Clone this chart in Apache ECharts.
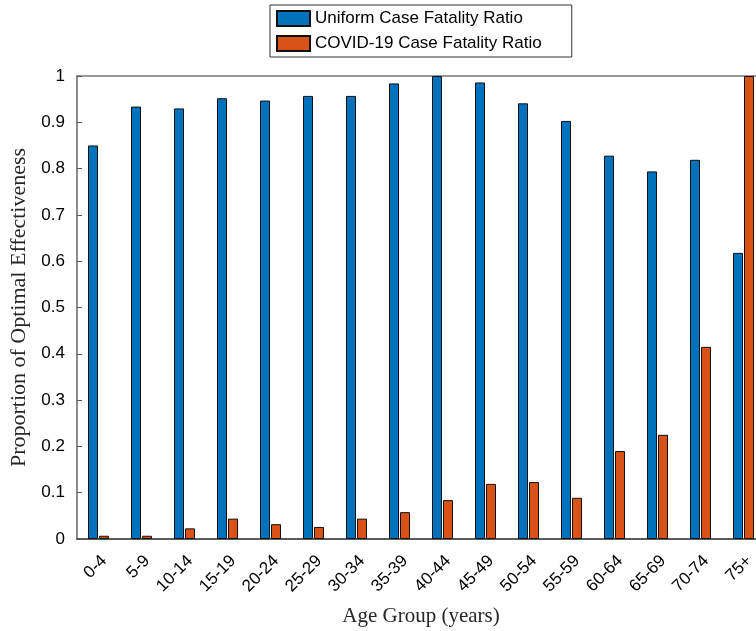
<!DOCTYPE html>
<html><head><meta charset="utf-8">
<script src="https://cdn.jsdelivr.net/npm/echarts@6/dist/echarts.min.js"></script>
<style>html,body{margin:0;padding:0;background:#fff}#c{width:756px;height:631px}</style>
</head><body><div id="c"></div>
<script>
const categories = ['0-4','5-9','10-14','15-19','20-24','25-29','30-34','35-39','40-44','45-49','50-54','55-59','60-64','65-69','70-74','75+'];
const uniformCFR = [0.850,0.934,0.930,0.952,0.947,0.957,0.957,0.984,1.000,0.986,0.941,0.903,0.828,0.794,0.819,0.618];
const covidCFR = [0.007,0.007,0.023,0.044,0.032,0.026,0.044,0.058,0.084,0.119,0.123,0.089,0.190,0.225,0.415,1.000];
const yTicks = [0,0.1,0.2,0.3,0.4,0.5,0.6,0.7,0.8,0.9,1];
const seriesNames = ['Uniform Case Fatality Ratio','COVID-19 Case Fatality Ratio'];

const chart = echarts.init(document.getElementById('c'), null, {renderer:'canvas'});
const sans = 'Liberation Sans, Arial, Helvetica, sans-serif';
const serif = 'Liberation Serif, DejaVu Serif, Times New Roman, serif';
chart.setOption({
  animation:false,
  backgroundColor:'#fff',
  legend:{
    orient:'vertical', left:270, top:5,
    icon:'rect',
    itemWidth:33, itemHeight:15, itemGap:8,
    padding:[5,30,5,6],
    borderColor:'#333', borderWidth:1,
    textStyle:{fontFamily:sans, fontSize:17, color:'#000'},
    data: seriesNames
  },
  grid:{left:77, top:76, width:688, height:463, containLabel:false, outerBoundsMode:'none'},
  xAxis:[{
    type:'category', data:categories, position:'bottom',
    axisLine:{lineStyle:{color:'#262626', width:1.5}},
    axisTick:{inside:true, alignWithLabel:true, length:5, lineStyle:{color:'#262626'}},
    axisLabel:{rotate:45, fontFamily:sans, fontSize:17, color:'#000', margin:25, interval:0,
      padding:[0,-8,0,0]},
    name:'Age Group (years)', nameLocation:'middle', nameGap:67,
    nameTextStyle:{fontFamily:serif, fontSize:21, color:'#262626'}
  },{
    type:'category', data:categories, position:'top',
    axisLine:{lineStyle:{color:'#777', width:1.5}},
    axisTick:{inside:true, alignWithLabel:true, length:5, lineStyle:{color:'#262626'}},
    axisLabel:{show:false}
  }],
  yAxis:{
    type:'value', min:0, max:1, interval:0.1,
    axisLine:{show:true, lineStyle:{color:'#666', width:1.5}},
    axisTick:{show:true, inside:true, length:5, lineStyle:{color:'#555'}},
    splitLine:{show:false},
    axisLabel:{fontFamily:sans, fontSize:17, color:'#000', margin:12,
      formatter:v=>{ const t=yTicks.find(x=>Math.abs(x-v)<1e-9); return t===undefined?'':String(t);} },
    name:'Proportion of Optimal Effectiveness', nameLocation:'middle', nameGap:47,
    nameTextStyle:{fontFamily:serif, fontSize:22, color:'#262626'}
  },
  series:[
    {name:seriesNames[0], type:'bar', data:uniformCFR, barWidth:10, barGap:'10%',
     itemStyle:{color:'#0072BD', borderColor:'#111', borderWidth:1}},
    {name:seriesNames[1], type:'bar', data:covidCFR, barWidth:10, barGap:'10%',
     itemStyle:{color:'#D95319', borderColor:'#111', borderWidth:1}}
  ]
});
</script></body></html>
